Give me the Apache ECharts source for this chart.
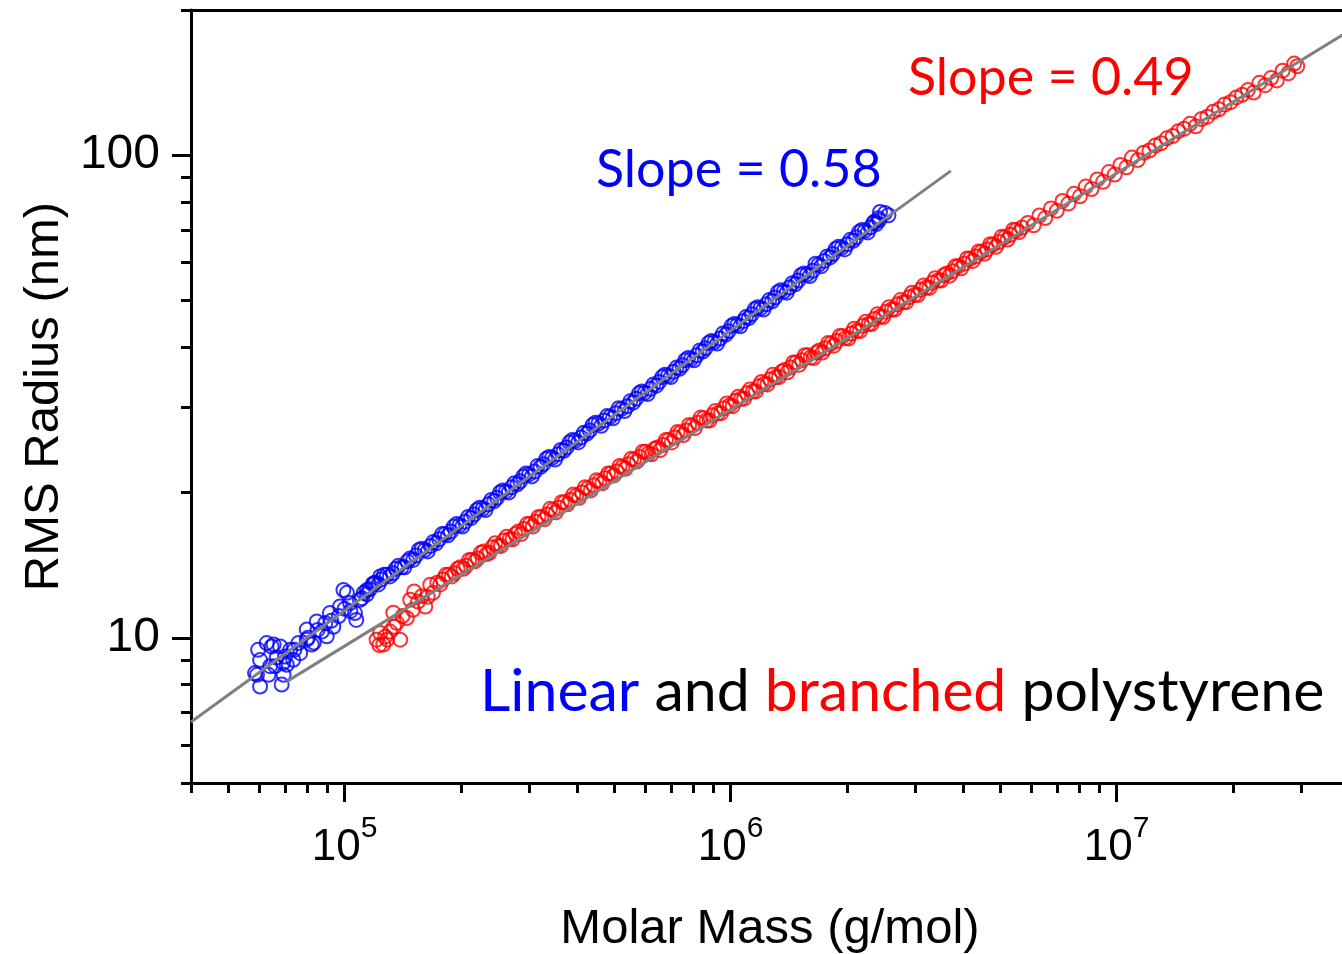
<!DOCTYPE html>
<html>
<head>
<meta charset="utf-8">
<title>RMS Radius vs Molar Mass</title>
<script src="https://cdn.jsdelivr.net/npm/echarts@6/dist/echarts.min.js"></script>
<style>
  html, body { margin: 0; padding: 0; background: #ffffff; }
  #chart { width: 1342px; height: 954px; }
</style>
</head>
<body>
<div id="chart"></div>
<script>
// Linear polystyrene: molar mass (g/mol) and RMS radius (nm)
const blueMass = [
  59700, 62800, 65500, 68100, 60400, 58600, 60400, 68700, 63500, 66100,
  70100, 72300, 69300, 73600, 76700, 75900, 79800, 82200, 79800, 84700,
  87300, 89900, 93500, 91600, 97300, 101400, 99300, 106400, 107200, 103300,
  109600, 114300, 118900, 123600, 64700, 59300, 70800, 69500, 66700, 64100,
  85100, 89100, 96600, 100000, 103500, 92300, 110900, 80400, 83200, 74100,
  112200, 116200, 120200, 124400, 128800, 133400, 138000, 142900, 147900, 153100,
  158500, 164100, 169800, 175800, 182000, 188400, 195000, 201800, 208900, 216300,
  223900, 231700, 239900, 248300, 257000, 266100, 275400, 285100, 295100, 305500,
  316200, 327400, 338800, 350800, 363100, 375900, 389000, 402800, 416900, 431600,
  446700, 462400, 478600, 495500, 512900, 530900, 549500, 568900, 588800, 609600,
  631000, 653200, 676100, 699900, 724400, 750000, 776200, 803600, 831800, 861100,
  891300, 922700, 955000, 988600, 1023000, 1059500, 1096000, 1135000, 1175000, 1216000,
  1259000, 1303000, 1349000, 1397000, 1445000, 1496000, 1549000, 1604000, 1660000, 1718000,
  1778000, 1841000, 1905000, 1973000, 2042000, 2114000, 2188000, 2265000, 2344000, 2427000,
  2512000, 2438000, 2564000, 2415000, 2360000
];
const blueRadius = [
  9.44, 9.75, 9.68, 9.59, 8.99, 8.45, 7.92, 8.00, 8.38, 8.73,
  9.14, 9.44, 8.87, 9.00, 9.29, 9.75, 9.91, 9.68, 10.40, 10.81,
  10.30, 10.07, 10.54, 11.25, 11.61, 12.39, 12.56, 11.25, 10.89, 11.80,
  11.99, 12.56, 12.97, 13.40, 9.59, 8.38, 8.79, 8.38, 9.10, 8.73,
  10.38, 10.72, 11.09, 11.48, 11.35, 10.84, 12.08, 10.0, 9.77, 9.44,
  12.4, 12.6, 13.0, 13.2, 13.5, 13.6, 14.1, 14.0, 14.6, 14.8,
  15.3, 15.1, 15.8, 16.0, 16.4, 16.6, 17.2, 17.0, 17.8, 18.0,
  18.6, 18.4, 19.3, 19.5, 20.2, 20.0, 20.9, 21.1, 21.9, 21.6,
  22.7, 22.9, 23.7, 23.4, 24.5, 24.8, 25.7, 25.4, 26.6, 26.9,
  27.9, 27.5, 28.8, 28.5, 29.9, 29.5, 30.9, 31.3, 32.4, 32.0,
  33.5, 33.9, 35.1, 34.7, 36.3, 36.7, 38.0, 37.6, 39.4, 39.8,
  41.2, 40.7, 42.7, 43.2, 44.7, 44.2, 46.2, 46.8, 48.4, 47.9,
  50.1, 50.7, 52.5, 51.9, 54.3, 55.0, 56.9, 56.2, 59.6, 58.9,
  61.7, 62.4, 64.6, 63.8, 66.8, 67.6, 70.0, 69.2, 72.4, 73.3,
  75.9, 76.3, 75.1, 74.0, 72.8
];
// Linear polystyrene, further readings across the width of the dense band
const blueMassBand = [
  114200, 118200, 122300, 126600, 131000, 135700, 140400, 145400, 150500, 155800,
  161300, 167000, 172800, 178900, 185200, 191700, 198400, 205300, 212500, 220100,
  227800, 235700, 244100, 252600, 261500, 270700, 280200, 290100, 300200, 310800,
  321700, 333100, 344700, 356900, 369400, 382400, 395800, 409800, 424200, 439100,
  454500, 470400, 486900, 504100, 521800, 540100, 559100, 578800, 599000, 620200,
  642000, 664600, 687900, 712100, 737000, 763100, 789700, 817600, 846300, 876100,
  906800, 938800, 971600, 1005800, 1040800, 1077900, 1115100, 1154700, 1195400, 1237200,
  1280900, 1325700, 1372500, 1421300, 1470100, 1522000, 1576000, 1631900, 1688900, 1747900,
  1808900, 1873000, 1938100, 2007300, 2077500, 2150800, 2226100, 2304400, 2384800
];
const blueRadiusBand = [
  12.3, 12.9, 12.9, 13.5, 13.4, 13.9, 14.0, 14.4, 14.5, 15.2,
  15.2, 15.5, 15.7, 16.4, 16.3, 17.0, 17.1, 17.4, 17.7, 18.4,
  18.5, 18.9, 19.2, 20.0, 20.1, 20.5, 20.8, 21.6, 21.8, 22.1,
  22.6, 23.5, 23.6, 24.0, 24.4, 25.4, 25.6, 26.0, 26.5, 27.6,
  27.8, 28.2, 28.7, 29.2, 29.8, 30.2, 30.7, 32.1, 32.2, 32.8,
  33.3, 34.7, 34.9, 35.6, 36.1, 37.6, 37.8, 38.5, 39.2, 40.8,
  41.0, 41.7, 42.5, 44.3, 44.5, 45.3, 46.0, 48.0, 48.2, 49.1,
  49.8, 52.0, 52.2, 53.2, 54.0, 56.4, 56.6, 57.6, 59.3, 60.4,
  61.4, 64.0, 64.3, 65.4, 66.5, 69.3, 69.7, 70.9, 72.0
];

// Branched polystyrene: molar mass (g/mol) and RMS radius (nm)
const redMass = [
  121000, 125900, 123600, 131200, 136500, 133700, 144900, 150300, 147900, 158500,
  161800, 169400, 166700, 134300, 151400, 139300, 128800, 141300, 154900, 164100,
  127400, 123000,
  173800, 179900, 186200, 192800, 199500, 206600, 213800, 221400, 229100, 237200,
  245500, 254100, 263000, 272300, 281800, 291800, 302000, 312600, 323600, 335000,
  346700, 359000, 371500, 384600, 398100, 412200, 426600, 441600, 457100, 473200,
  489800, 507100, 524800, 543300, 562300, 582100, 602600, 623800, 645700, 668400,
  691800, 716200, 741300, 767400, 794300, 822300, 851100, 881200, 912000, 944200,
  977200, 1012000, 1047000, 1084000, 1122000, 1162000, 1202000, 1245000, 1288000, 1334000,
  1380000, 1429000, 1479000, 1531000, 1585000, 1641000, 1698000, 1758000, 1820000, 1884000,
  1950000, 2019000, 2089000, 2163000, 2239000, 2318000, 2399000, 2484000, 2570000, 2661000,
  2754000, 2851000, 2951000, 3055000, 3162000, 3274000, 3388000, 3508000, 3631000, 3759000,
  3890000, 4028000, 4169000, 4316000, 4467000, 4624000, 4786000, 4955000, 5129000, 5309000,
  5495000, 5689000, 5888000, 6096000, 6310000, 6532000, 6761000, 6999000, 7244000, 7500000,
  7762000, 8036000, 8318000, 8611000, 8913000, 9227000, 9550000, 9886000, 10230000, 10600000,
  10960000, 11350000, 11750000, 12160000, 12590000, 13030000, 13490000, 13970000, 14450000, 14960000,
  15490000, 16040000, 16600000, 17180000, 17780000, 18410000, 19050000, 19730000, 20420000, 21140000,
  21880000, 22650000, 23440000, 24270000, 25120000, 26000000, 26920000, 27860000, 28840000, 29380000
];
const redRadius = [
  9.91, 9.68, 10.23, 10.30, 10.74, 11.27, 10.99, 11.43, 11.99, 12.19,
  11.61, 12.39, 12.88, 10.54, 12.47, 9.91, 9.91, 11.09, 11.89, 12.16,
  10.05, 9.66,
  13.0, 13.2, 13.5, 13.6, 14.0, 14.1, 14.5, 14.6, 15.1, 15.0,
  15.7, 15.5, 16.2, 16.0, 16.6, 16.8, 17.2, 17.4, 17.8, 18.0,
  18.4, 18.6, 19.1, 19.3, 19.7, 20.0, 20.4, 20.7, 21.1, 21.4,
  21.9, 22.1, 22.6, 22.9, 23.4, 23.7, 24.3, 24.0, 24.8, 25.1,
  25.7, 26.0, 26.6, 26.9, 27.5, 27.9, 28.5, 28.2, 29.5, 29.2,
  30.6, 30.2, 31.6, 31.3, 32.7, 32.4, 33.9, 33.5, 35.1, 34.7,
  35.9, 36.3, 37.2, 37.6, 38.5, 38.0, 39.4, 39.8, 40.7, 41.2,
  42.2, 41.7, 43.7, 43.2, 45.2, 44.7, 46.8, 46.2, 48.4, 47.9,
  50.1, 49.6, 51.9, 51.3, 53.7, 53.1, 55.6, 55.0, 56.9, 57.5,
  58.9, 59.6, 61.0, 61.7, 63.1, 63.8, 65.3, 66.1, 67.6, 68.4,
  70.0, 70.8, 72.4, 71.6, 75.0, 74.1, 77.6, 76.7, 80.4, 79.4,
  83.2, 82.2, 86.1, 85.1, 89.1, 88.1, 92.3, 91.2, 95.5, 94.4,
  98.9, 97.7, 101.2, 102.3, 104.7, 105.9, 108.4, 109.6, 112.2, 113.5,
  116.2, 114.8, 118.9, 120.2, 123.0, 124.5, 127.4, 128.8, 131.8, 133.4,
  136.5, 134.9, 141.3, 139.7, 144.5, 142.9, 149.7, 147.9, 154.9, 152.9
];
// Branched polystyrene, further readings across the width of the dense band
const redMassBand = [
  176800, 183000, 189400, 196200, 203000, 210200, 217500, 225300, 233100, 241300,
  249800, 258500, 267600, 277000, 286700, 296900, 307300, 318000, 329200, 340800,
  352700, 365200, 378000, 391300, 405000, 419400, 434000, 449300, 465100, 481400,
  498300, 515900, 533900, 552800, 572100, 592200, 613100, 634700, 656900, 680000,
  703800, 728700, 754200, 780800, 808100, 836600, 865900, 896500, 927900, 960600,
  994200, 1029600, 1065200, 1102900, 1141500, 1182200, 1222900, 1266700, 1310400, 1357200,
  1404000, 1453900, 1504700, 1557600, 1612600, 1669600, 1727500, 1788600, 1851700, 1916800,
  1983900, 2054100, 2125300, 2200600, 2278000, 2358300, 2440700, 2527200, 2614700, 2707300,
  2801900, 2900600, 3002300, 3108200, 3217000, 3331000, 3447000, 3569000, 3694000, 3824000,
  3958000, 4098000, 4242000, 4391000, 4545000, 4704000, 4869000, 5041000, 5218000, 5401000,
  5591000
];
const redRadiusBand = [
  12.9, 13.5, 13.4, 13.9, 13.9, 14.5, 14.4, 15.0, 14.9, 15.4,
  15.5, 15.9, 16.0, 16.4, 16.4, 17.2, 17.0, 17.8, 17.6, 18.5,
  18.2, 19.1, 18.9, 19.8, 19.5, 20.5, 20.2, 21.2, 20.9, 21.9,
  21.7, 22.7, 22.4, 23.5, 23.2, 24.3, 24.1, 24.6, 24.5, 25.7,
  25.4, 26.7, 26.3, 27.6, 27.2, 28.6, 28.2, 28.9, 29.2, 29.9,
  30.3, 31.0, 31.3, 32.1, 32.4, 33.2, 33.6, 34.3, 34.7, 35.6,
  35.5, 37.2, 36.8, 38.5, 38.1, 39.0, 39.0, 40.8, 40.3, 42.2,
  41.8, 42.7, 43.3, 44.3, 44.7, 45.8, 46.3, 47.4, 47.9, 49.1,
  49.6, 50.8, 51.4, 52.6, 53.2, 54.4, 55.0, 56.4, 56.3, 58.9,
  58.3, 61.1, 60.4, 63.2, 62.5, 65.4, 64.6, 67.8, 66.9, 70.1,
  69.3
];

// Power-law fits (straight lines on log-log axes)
const blueFitMass = [40000, 3720000];
const blueFitRadius = [6.69, 92.8];
const redFitMass = [70900, 40000000];
const redFitRadius = [8.12, 181];

// Axis ranges and tick values
const xRange = [40000, 40000000];
const yRange = [5, 200];
const xMajorTicks = [1e5, 1e6, 1e7];
const xMinorTicks = [
  4e4, 5e4, 6e4, 7e4, 8e4, 9e4,
  2e5, 3e5, 4e5, 5e5, 6e5, 7e5, 8e5, 9e5,
  2e6, 3e6, 4e6, 5e6, 6e6, 7e6, 8e6, 9e6,
  2e7, 3e7, 4e7
];
const yMajorTicks = [10, 100];
const yMinorTicks = [5, 6, 7, 8, 9, 20, 30, 40, 50, 60, 70, 80, 90, 200];

const AXIS_FONT = '"Liberation Sans", Arial, sans-serif';
const NOTE_FONT = 'Lato, "Open Sans", sans-serif';

const pairs = (xs, ys) => xs.map((x, i) => [x, ys[i]]);

const chart = echarts.init(document.getElementById('chart'), null, { renderer: 'canvas' });

const axisLineStyle = { color: '#000', width: 3 };
const ringStyle = color => ({ color: 'rgba(0,0,0,0)', borderColor: color, borderWidth: 2 });

const option = {
  animation: false,
  backgroundColor: '#ffffff',
  grid: {
    left: 191, top: 10, width: 1158, height: 773,
    containLabel: false, outerBoundsMode: 'none'
  },
  xAxis: [
    {
      type: 'log', logBase: 10, min: xRange[0], max: xRange[1], position: 'bottom',
      name: 'Molar Mass (g/mol)', nameLocation: 'middle', nameGap: 122,
      nameTextStyle: { fontFamily: AXIS_FONT, fontSize: 49, color: '#000' },
      axisLine: { show: true, onZero: false, lineStyle: axisLineStyle },
      axisTick: { show: true, inside: false, length: 19, customValues: xMajorTicks, lineStyle: axisLineStyle },
      axisLabel: {
        customValues: xMajorTicks, margin: 31, color: '#000',
        formatter: v => '{b|10}{s|' + Math.round(Math.log10(v)) + '}',
        rich: {
          b: { fontFamily: AXIS_FONT, fontSize: 44, color: '#000', verticalAlign: 'bottom', lineHeight: 56 },
          s: { fontFamily: AXIS_FONT, fontSize: 30, color: '#000', verticalAlign: 'top', lineHeight: 30 }
        }
      },
      splitLine: { show: false }, minorTick: { show: false }, minorSplitLine: { show: false }
    },
    {
      type: 'log', logBase: 10, min: xRange[0], max: xRange[1], position: 'bottom',
      axisLine: { show: false },
      axisTick: { show: true, inside: false, length: 10, customValues: xMinorTicks, lineStyle: axisLineStyle },
      axisLabel: { show: false }, splitLine: { show: false }
    },
    {
      type: 'log', logBase: 10, min: xRange[0], max: xRange[1], position: 'top',
      axisLine: { show: true, onZero: false, lineStyle: axisLineStyle },
      axisTick: { show: false }, axisLabel: { show: false }, splitLine: { show: false }
    }
  ],
  yAxis: [
    {
      type: 'log', logBase: 10, min: yRange[0], max: yRange[1], position: 'left',
      name: 'RMS Radius (nm)', nameLocation: 'middle', nameGap: 122, nameRotate: 90,
      nameTextStyle: { fontFamily: AXIS_FONT, fontSize: 49, color: '#000' },
      axisLine: { show: true, onZero: false, lineStyle: axisLineStyle },
      axisTick: { show: true, inside: false, length: 19, customValues: yMajorTicks, lineStyle: axisLineStyle },
      axisLabel: { customValues: yMajorTicks, margin: 31, color: '#000', fontFamily: AXIS_FONT, fontSize: 48 },
      splitLine: { show: false }, minorTick: { show: false }, minorSplitLine: { show: false }
    },
    {
      type: 'log', logBase: 10, min: yRange[0], max: yRange[1], position: 'left',
      axisLine: { show: false },
      axisTick: { show: true, inside: false, length: 10, customValues: yMinorTicks, lineStyle: axisLineStyle },
      axisLabel: { show: false }, splitLine: { show: false }
    }
  ],
  series: [
    {
      name: 'Linear', type: 'scatter', xAxisIndex: 0, yAxisIndex: 0,
      data: pairs(blueMass, blueRadius).concat(pairs(blueMassBand, blueRadiusBand)),
      symbol: 'circle', symbolSize: 14, silent: true, z: 2,
      itemStyle: ringStyle('#0000ff'),
      emphasis: { disabled: true }
    },
    {
      name: 'Branched', type: 'scatter', xAxisIndex: 0, yAxisIndex: 0,
      data: pairs(redMass, redRadius).concat(pairs(redMassBand, redRadiusBand)),
      symbol: 'circle', symbolSize: 14, silent: true, z: 2,
      itemStyle: ringStyle('#ff0000'),
      emphasis: { disabled: true }
    },
    {
      name: 'Linear fit', type: 'line', xAxisIndex: 0, yAxisIndex: 0,
      data: pairs(blueFitMass, blueFitRadius),
      showSymbol: false, symbol: 'none', silent: true, z: 3,
      lineStyle: { color: '#808080', width: 3 }
    },
    {
      name: 'Branched fit', type: 'line', xAxisIndex: 0, yAxisIndex: 0,
      data: pairs(redFitMass, redFitRadius),
      showSymbol: false, symbol: 'none', silent: true, z: 3,
      lineStyle: { color: '#808080', width: 3 }
    }
  ],
  graphic: [
    {
      type: 'text', x: 596, y: 170, silent: true, z: 10,
      style: { text: 'Slope = 0.58', fill: '#0000ff', fontFamily: NOTE_FONT, fontSize: 52, verticalAlign: 'middle', align: 'left' }
    },
    {
      type: 'text', x: 908, y: 78, silent: true, z: 10,
      style: { text: 'Slope = 0.49', fill: '#ff0000', fontFamily: NOTE_FONT, fontSize: 52, verticalAlign: 'middle', align: 'left' }
    },
    {
      type: 'text', x: 480, y: 692, silent: true, z: 10,
      style: {
        text: '{b|Linear} {k|and} {r|branched} {k|polystyrene}',
        fontFamily: NOTE_FONT, fontSize: 59, fill: '#000', verticalAlign: 'middle', align: 'left',
        rich: {
          b: { fill: '#0000ff', fontFamily: NOTE_FONT, fontSize: 59 },
          r: { fill: '#ff0000', fontFamily: NOTE_FONT, fontSize: 59 },
          k: { fill: '#000000', fontFamily: NOTE_FONT, fontSize: 59 }
        }
      }
    }
  ]
};

chart.setOption(option);
</script>
</body>
</html>
